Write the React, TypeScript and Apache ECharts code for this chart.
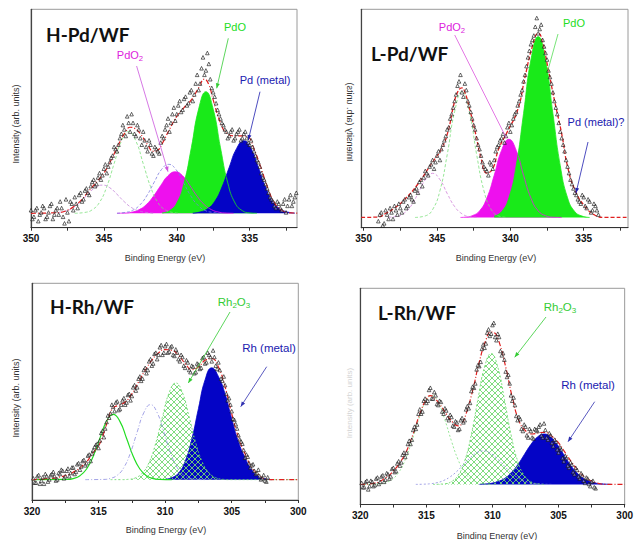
import React, { useEffect, useRef } from "react";
import * as echarts from "echarts";

// ---------- Panel 1: H-Pd/WF ----------
const p1DataStart = 350.0;
const p1DataStep = 0.2;
const p1DataY = [8,5,9,6,10,4,7,11,6,9, 12,5,13,3,11,14,9,16,13,18, 15,21,19,23,22,27,25,30,33,36,
  38,43,45,51,44,48,42,45,38,40, 35,38,33,36,34,42,45,50,48,55, 52,58,54,60,57,63,61,70,66,78,
  72,75,64,60,54,50,47,44,42,45, 41,44,40,43,41,38,37,33,30,25, 22,18,14,12,9,11,8,13,10,15, 12,16,14,11,15,13];
const p1Data2Start = 349.9;
const p1Data2Y = [4,8,3,7,9,5,10,4,8,6, 9,2,7,12,8,11,15,12,17,16, 19,22,20,25,24,29,28,32,37,35,
  41,47,42,48,52,43,47,41,44,37, 40,34,37,35,39,41,47,44,52,49, 56,53,59,56,62,58,66,63,73,70,
  80,68,62,57,52,48,45,41,44,40, 43,45,41,44,39,40,35,31,28,23, 20,16,13,10,12,9,11,7,13,10, 14,17,12,16,13];
const p1PdO = [[341.0,6.8],[340.5,7.8],[340.0,11.3],[339.5,20.5],[339.0,36.6],[338.5,54.3],[338.0,62.3],[337.5,54.3],[337.0,36.6],[336.5,20.5],[336.0,11.3],[335.5,7.8],[335.0,6.8],[334.5,6.6]];
const p1Metal = [[338.9,6.7],[338.4,7.2],[337.9,8.6],[337.4,12.0],[336.9,18.6],[336.4,27.7],[335.9,36.2],[335.4,39.8],[334.9,36.2],[334.4,27.7],[333.9,18.6],[333.4,12.0],[332.9,8.6],[332.4,7.2],[331.9,6.7]];
const p1PdO2 = [[344.1,6.6],[343.6,6.7],[343.1,7.1],[342.6,8.2],[342.1,10.5],[341.6,14.4],[341.1,19.3],[340.6,23.8],[340.1,25.6],[339.6,23.8],[339.1,19.3],[338.6,14.4],[338.1,10.5],[337.6,8.2],[337.1,7.1],[336.6,6.7],[336.1,6.6]];
const p1PdOSat = [[347.0,6.6],[346.3,7.0],[345.8,8.2],[345.3,11.6],[344.8,18.8],[344.3,29.3],[343.8,39.6],[343.3,44.0],[342.8,39.6],[342.3,29.3],[341.8,18.8],[341.3,11.6],[340.8,8.2],[340.3,7.0],[339.8,6.6]];
const p1MetalSat = [[344.1,6.6],[343.55,7.0],[343.05,7.9],[342.55,10.3],[342.05,14.7],[341.55,20.8],[341.05,26.6],[340.55,29.0],[340.05,26.6],[339.55,20.8],[339.05,14.7],[338.55,10.3],[338.05,7.9],[337.55,7.0],[337.0,6.6]];
const p1PdO2Sat = [[348.1,7.0],[347.6,7.7],[347.1,9.2],[346.6,11.9],[346.1,15.3],[345.6,18.3],[345.1,19.5],[344.6,18.3],[344.1,15.3],[343.6,11.9],[343.1,9.2],[342.6,7.7],[342.1,7.0],[341.5,6.6]];
const p1Env = [[350,6.6],[349,6.7],[348,7.0],[347.5,8.0],[347,10],[346.5,13],[346,17],[345.5,21],[345,25],[344.5,31],[344,38],[343.5,44],[343.2,46],[342.9,45.5],[342.5,43],[342,38],[341.6,35],[341.3,35.5],[341,38.5],[340.5,45],[340,51],[339.5,55],[339,58.5],[338.5,64],[338.1,68],[337.8,65.5],[337.5,58.5],[337,48],[336.6,43.5],[336,42],[335.5,42],[335.1,41.5],[334.7,36],[334.2,27],[333.8,19],[333.3,11.5],[332.8,8],[332.2,6.8],[331,6.6]];

// ---------- Panel 2: L-Pd/WF ----------
const p2DataStart = 349.0;
const p2DataStep = 0.2;
const p2DataY = [3,7,2,6,9,4,8,11,7,13, 10,15,12,18,21,19,26,24,29,27, 33,31,38,42,46,52,58,65,70,60,
  63,56,50,45,38,33,28,26,30,27, 35,38,41,39,46,44,50,53,58,63, 70,78,84,88,96,91,86,80,72,66,
  58,52,44,38,31,25,20,16,13,11, 14,9,12,8,10,6];
const p2Data2Start = 348.9;
const p2Data2Y = [6,1,8,4,7,10,6,9,12,9, 14,13,17,16,22,23,25,28,31,30, 35,36,40,45,50,55,61,67,62,66,
  58,53,47,41,36,30,27,24,29,31, 37,40,43,42,48,47,52,56,61,67, 74,81,86,92,89,93,83,77,69,62,
  55,48,41,35,28,22,18,15,12,15, 10,13,7,11,8];
const p2PdO = [[341.1,5.3],[340.6,7.3],[340.1,13.7],[339.6,28.5],[339.1,52.3],[338.6,76.8],[338.1,87.5],[337.6,76.8],[337.1,52.3],[336.6,28.5],[336.1,13.7],[335.6,7.3],[335.1,5.3],[334.6,4.7]];
const p2PdO2 = [[343.4,4.7],[343.1,4.8],[342.6,5.5],[342.1,7.7],[341.6,13.6],[341.1,24.0],[340.6,35.4],[340.1,40.5],[339.6,35.4],[339.1,24.0],[338.6,13.6],[338.1,7.7],[337.6,5.5],[337.1,4.8],[336.5,4.7]];
const p2PdOSat = [[346.5,4.7],[345.8,5.4],[345.3,8.3],[344.8,16.9],[344.3,33.6],[343.8,53.1],[343.3,62.3],[342.8,53.1],[342.3,33.6],[341.8,16.9],[341.3,8.3],[340.8,5.4],[340.2,4.7]];
const p2PdO2Sat = [[348.3,4.8],[347.8,5.1],[347.3,6.4],[346.8,9.7],[346.3,15.6],[345.8,22.0],[345.3,24.9],[344.8,22.0],[344.3,15.6],[343.8,9.7],[343.3,6.4],[342.8,5.1],[342.3,4.8]];
const p2Env = [[350.16,4.7],[349,4.9],[348.5,6.5],[347.9,9],[347.2,13],[346.3,20],[345.6,27],[345.3,30],[344.7,36],[344.25,44],[343.9,55],[343.6,62],[343.3,64],[343.1,62],[342.8,55],[342.4,44],[342.0,32],[341.6,25],[341.2,27],[340.8,36],[340.2,44],[339.5,54],[339.0,69],[338.5,83],[338.1,89],[337.9,87.5],[337.4,72],[337.0,58.5],[336.5,43],[336.1,28],[335.6,17.3],[334.9,9.6],[334.25,5.8],[333.6,4.7],[331.98,4.7]];

// ---------- Panel 3: H-Rh/WF ----------
const p3DataStart = 319.8;
const p3DataStep = 0.2;
const p3DataY = [8,11,7.5,10.5,12,8.5,11.5,13,9,12.5, 14,10,13.5,11,15,12,16.5,14,18,16, 20.5,18,23,25.5,24,31,29,36,38,44,
  41,45.5,42,46,44,48.5,46,52,50.5,56, 55,60,58.5,64,62,67.5,65,70.5,67,71, 68,70.5,67,69.5,65,67,62,64.5,60,62,
  58.5,63,60.5,65.5,63,68,66,69,62,63.5, 56,57,49,47,41,37,33,28,26,19.5, 20,15,16.5,12,14,9.5,11.5,8.5];
const p3Data2Start = 319.9;
const p3Data2Y = [10,8,11.5,9,7.5,11,9.5,12,11,9.5, 12,13.5,11,14.5,12.5,15,13,17,15.5,18.5, 17,21,21.5,24.5,26,27.5,32,33,39,40,
  43,45,41.5,44,47,45,49,48,53,52, 57,56,61,60,65,63,68,67,71.5,68, 72,68.5,71,66.5,68,64,66,61,63.5,59,
  61.5,59,62.5,61,66,63.5,67,64,66,60.5, 60,55,53,46,44,37.5,35,30,27,23, 21,17,16,13.5,12.5,11,10,9,10.5];
const p3Metal = [[310.0,9.6],[309.5,10.3],[309.0,12.4],[308.5,17.8],[308.0,28.0],[307.5,42.2],[307.0,55.5],[306.5,61.0],[306.0,57.0],[305.5,49.0],[305.0,37.5],[304.5,27.0],[304.0,19.5],[303.5,14.0],[303.0,11.0],[302.5,9.8],[302.0,9.4]];
const p3Rh2O3 = [[314.1,9.4],[313.2,9.4],[312.7,9.6],[312.2,10.3],[311.7,12.5],[311.2,17.4],[310.7,26.4],[310.2,38.4],[309.7,49.5],[309.2,54.0],[308.7,49.5],[308.2,38.4],[307.7,26.4],[307.2,17.4],[306.7,12.5],[306.2,10.3],[305.7,9.6],[305.2,9.4],[300,9.4]];
const p3Rh2O3Sat = [[320,9.4],[317.4,9.5],[316.9,9.9],[316.4,11.2],[315.9,14.3],[315.4,20.2],[314.9,28.5],[314.4,36.3],[313.9,39.5],[313.4,36.3],[312.9,28.5],[312.4,20.2],[311.9,14.3],[311.4,11.2],[310.9,9.9],[310.4,9.5],[309.5,9.4]];
const p3MetalSat = [[316.0,9.4],[314.6,9.5],[314.1,10.0],[313.6,11.4],[313.1,15.0],[312.6,21.9],[312.1,31.4],[311.6,40.3],[311.1,44.0],[310.6,40.3],[310.1,31.4],[309.6,21.9],[309.1,15.0],[308.6,11.4],[308.1,10.0],[307.6,9.5],[307.0,9.4]];
const p3Env = [[320,9.4],[319,9.8],[318,10.5],[317,12.5],[316,17],[315.4,22],[315,25],[314.6,31],[314.2,39],[313.9,42.5],[313.5,43.7],[313,45.2],[312.5,49],[312,54.5],[311.5,59.9],[311,64.5],[310.5,67.9],[310,69.4],[309.5,69.1],[309,66.8],[308.5,63],[308,60.2],[307.5,61.4],[307,64.5],[306.5,65.3],[306,61.4],[305.5,52.2],[305,39.8],[304.5,29],[304,21.3],[303.5,15.1],[303,11.7],[302.5,9.7],[302,9.4],[300,9.4]];

// ---------- Panel 4: L-Rh/WF ----------
const p4DataStart = 319.8;
const p4DataStep = 0.2;
const p4DataY = [8,10.5,7,11,8.5,12,9.5,13,10.5,14.5, 12,16.5,15,19,18,23,22,28,28,34.5, 35,42,42,48,47,53,49,52,46.5,48,
  43,44.5,40,41.5,36.5,38.5,34.5,39,38,44, 44.5,52.5,54,62.5,64,72,72.5,79.5,78,83, 77.5,79,71,70,61.5,60,50.5,49.5,41,40.5,
  35,37,32,35,31,35,34,37,31,34.5, 30,32,27,29,24,25.5,20,21.5,17,18.5, 14,16,12,13.5,10,12,8.5,11,7.5];
const p4Data2Start = 319.9;
const p4Data2Y = [10,8,11,8.5,10.5,9,12.5,10.5,13.5,11.5, 14,13,17,15.5,20,19.5,24,24,29.5,30, 36,37,44,43,49,48,54,49,50.5,46,
  47.5,42,43.5,39,40.5,36,38,35,40,39, 45.5,47,54.5,56,64.5,66,74,74.5,81,79, 84,76,77.5,69,67,59,56,48,46,39,
  39.5,34,36,31,34,30.5,34.5,36,32,37.5, 31,33,28.5,30,25.5,26.5,21.5,22.5,18,19.5, 15,17,13,14.5,11,12.5,9.5,10.5,8];
const p4Rh2O3 = [[314.5,9.3],[313.6,9.6],[313.1,10.6],[312.6,13.5],[312.1,20.2],[311.6,32.4],[311.1,48.7],[310.6,63.6],[310.1,69.8],[309.6,63.6],[309.1,48.7],[308.6,32.4],[308.1,20.2],[307.6,13.5],[307.1,10.6],[306.6,9.6],[306.0,9.3]];
const p4Metal = [[311,9.3],[310.6,9.5],[310.1,9.8],[309.6,10.6],[309.1,12.0],[308.6,14.6],[308.1,18.3],[307.6,23.0],[307.1,27.7],[306.6,31.2],[306.1,32.6],[305.6,31.2],[305.1,27.7],[304.6,23.0],[304.1,18.3],[303.6,14.6],[303.1,12.0],[302.6,10.6],[302.1,9.8],[301.6,9.5],[301,9.3]];
const p4Rh2O3Sat = [[320,9.3],[318.6,9.5],[318.1,10.1],[317.6,11.6],[317.1,14.8],[316.6,20.7],[316.1,29.3],[315.6,39.1],[315.1,47.2],[314.6,50.4],[314.1,47.2],[313.6,39.1],[313.1,29.3],[312.6,20.7],[312.1,14.8],[311.6,11.6],[311.1,10.1],[310.6,9.5],[310,9.3]];
const p4MetalSat = [[315.8,9.3],[315.2,9.4],[314.7,9.6],[314.2,10.1],[313.7,11.1],[313.2,12.8],[312.7,15.3],[312.2,18.4],[311.7,21.5],[311.2,23.9],[310.7,24.8],[310.2,23.9],[309.7,21.5],[309.2,18.4],[308.7,15.3],[308.2,12.8],[307.7,11.1],[307.2,10.1],[306.7,9.6],[306.2,9.4],[305.5,9.3]];
const p4Env = [[320,9.3],[319,9.8],[318,12.7],[317.5,15.5],[317,19.4],[316.5,24.8],[316,32.6],[315.5,41.9],[315,48.8],[314.7,50.4],[314.5,49.9],[314,46.5],[313.5,41.9],[313,38],[312.6,36.4],[312.3,37.5],[312,41.9],[311.5,52.7],[311,65.9],[310.5,76],[310.15,79.8],[309.85,79.4],[309.5,75.2],[309,63.6],[308.5,49.6],[308,38.8],[307.5,34.1],[307,32.6],[306.5,33.2],[306,33.4],[305.5,31.5],[305,28.5],[304.5,24],[304,19.5],[303.5,15.5],[303,12.6],[302.5,10.8],[302,9.8],[301.5,9.3],[300,9.3]];

// ---------- Axes ----------
const pdTicks = [332.5, 335, 337.5, 340, 342.5, 345, 347.5, 350];
const pdLabels = [335, 340, 345, 350];
const rhTicks = [300, 302.5, 305, 307.5, 310, 312.5, 315, 317.5, 320];
const rhLabels = [300, 305, 310, 315, 320];
const axisTitle = "Binding Energy (eV)";
const yTitle = "Intensity (arb. units)";

const GREEN = "#19ea19";
const MAGENTA = "#ee10ee";
const BLUE = "#0404c6";
const RED = "#e02020";

export default function App() {
  const ref = useRef<HTMLDivElement>(null);
  useEffect(() => {
    if (!ref.current) return;
    const chart = echarts.init(ref.current, undefined, { renderer: "svg" });

    const cv = document.createElement("canvas");
    cv.width = 6;
    cv.height = 6;
    const ctx = cv.getContext("2d")!;
    ctx.strokeStyle = "#72d872";
    ctx.lineWidth = 0.9;
    ctx.beginPath();
    ctx.moveTo(0, 0); ctx.lineTo(6, 6);
    ctx.moveTo(6, 0); ctx.lineTo(0, 6);
    ctx.stroke();
    const hatch: any = { image: cv, repeat: "repeat", imageWidth: 6, imageHeight: 6 };

    const grids = [
      { left: 31, top: 9.3, width: 266, height: 218.4 },
      { left: 361.3, top: 9.3, width: 266.7, height: 218.4 },
      { left: 32, top: 283.3, width: 266.3, height: 216.7 },
      { left: 360.3, top: 288.3, width: 267, height: 216.2 },
    ].map((g) => ({ ...g, show: true, borderColor: "#9a9a9a", borderWidth: 1 }));

    const ranges = [
      [331.75, 350.0],
      [331.98, 350.16],
      [300, 320],
      [300, 320],
    ];
    const xAxes = ranges.map((r, i) => ({
      gridIndex: i,
      type: "value",
      inverse: true,
      min: r[0],
      max: r[1],
      axisLine: { show: true, onZero: false, lineStyle: { color: "#333", width: 1.2 } },
      axisTick: { show: true, inside: false, length: 3, customValues: i < 2 ? pdTicks : rhTicks, lineStyle: { color: "#333", width: 1 } },
      axisLabel: {
        show: true,
        customValues: i < 2 ? pdLabels : rhLabels,
        margin: 6,
        fontSize: 10,
        fontWeight: "bold",
        color: "#111",
        fontFamily: "Liberation Sans",
      },
      splitLine: { show: false },
    }));
    const yAxes = [0, 1, 2, 3].map((i) => ({
      gridIndex: i,
      type: "value",
      min: 0,
      max: 100,
      axisLine: { show: true, onZero: false, lineStyle: { color: "#444", width: 1.2 } },
      axisTick: { show: false },
      axisLabel: { show: false },
      splitLine: { show: false },
    }));

    const line = (i: number, data: number[][], color: string, type: any, width: number, z: number, area?: any) => ({
      type: "line",
      xAxisIndex: i,
      yAxisIndex: i,
      data,
      smooth: 0.5,
      symbol: "none",
      silent: true,
      z,
      lineStyle: { color, width, type },
      areaStyle: area,
    });
    const scatter = (i: number, start: number, step: number, ys: number[]) => ({
      type: "scatter",
      xAxisIndex: i,
      yAxisIndex: i,
      data: ys.map((y, k) => [+(start - k * step).toFixed(2), y]),
      symbol: "triangle",
      symbolSize: 3.6,
      silent: true,
      z: 6,
      itemStyle: { color: "rgba(255,255,255,0.5)", borderColor: "#111", borderWidth: 0.8 },
    });
    const envStyle = [5, 2, 1, 2];

    const series: any[] = [
      // panel 1
      line(0, p1PdO2, MAGENTA, "solid", 0.8, 2, { color: MAGENTA, opacity: 1, origin: 6.6 }),
      line(0, p1PdO, GREEN, "solid", 0.8, 2, { color: GREEN, opacity: 1, origin: 6.6 }),
      line(0, p1Metal, BLUE, "solid", 0.8, 2, { color: BLUE, opacity: 1, origin: 6.6 }),
      line(0, p1PdOSat, "#7ce07c", [3, 2], 0.8, 3),
      line(0, p1MetalSat, "#7a7ae0", [3, 2], 0.8, 3),
      line(0, p1PdO2Sat, "#c080d8", [3, 2], 0.8, 3),
      line(0, p1Env, RED, envStyle, 1.2, 4),
      scatter(0, p1DataStart, p1DataStep, p1DataY),
      scatter(0, p1Data2Start, p1DataStep, p1Data2Y),
      // panel 2
      line(1, p2PdO2, MAGENTA, "solid", 0.8, 2, { color: MAGENTA, opacity: 1, origin: 4.7 }),
      line(1, p2PdO, GREEN, "solid", 0.8, 2, { color: GREEN, opacity: 1, origin: 4.7 }),
      line(1, p2PdOSat, "#7ce07c", [3, 2], 0.8, 3),
      line(1, p2PdO2Sat, "#d080d8", [3, 2], 0.8, 3),
      line(1, p2Env, RED, [4, 2], 1.3, 4),
      scatter(1, p2DataStart, p2DataStep, p2DataY),
      scatter(1, p2Data2Start, p2DataStep, p2Data2Y),
      // panel 3
      line(2, p3Metal, BLUE, "solid", 0.8, 2, { color: BLUE, opacity: 1, origin: 9.4 }),
      line(2, p3Rh2O3, "#62d862", [2, 2], 0.8, 2, { color: hatch, opacity: 1, origin: 9.4 }),
      line(2, p3Rh2O3Sat, "#22dd22", "solid", 1.2, 3),
      line(2, p3MetalSat, "#8c8ce0", [4, 2, 1, 2], 0.8, 3),
      line(2, p3Env, RED, envStyle, 1.2, 4),
      scatter(2, p3DataStart, p3DataStep, p3DataY),
      scatter(2, p3Data2Start, p3DataStep, p3Data2Y),
      // panel 4
      line(3, p4Metal, BLUE, "solid", 0.8, 2, { color: BLUE, opacity: 1, origin: 9.3 }),
      line(3, p4Rh2O3, "#62d862", [2, 2], 0.8, 2, { color: hatch, opacity: 1, origin: 9.3 }),
      line(3, p4Rh2O3Sat, "#7ce07c", [2, 2], 0.8, 3),
      line(3, p4MetalSat, "#8c8ce0", [2, 2], 0.8, 3),
      line(3, p4Env, RED, envStyle, 1.2, 4),
      scatter(3, p4DataStart, p4DataStep, p4DataY),
      scatter(3, p4Data2Start, p4DataStep, p4Data2Y),
    ];

    const arrow = (x1: number, y1: number, x2: number, y2: number, color: string, head = true) => {
      const els: any[] = [
        { type: "line", silent: true, z: 20, shape: { x1, y1, x2, y2 }, style: { stroke: color, lineWidth: 0.8 } },
      ];
      if (head) {
        const a = Math.atan2(y2 - y1, x2 - x1);
        const L = 5, W = 2;
        const bx = x2 - L * Math.cos(a), by = y2 - L * Math.sin(a);
        els.push({
          type: "polygon",
          silent: true,
          z: 20,
          shape: { points: [[x2, y2], [bx + W * Math.sin(a), by - W * Math.cos(a)], [bx - W * Math.sin(a), by + W * Math.cos(a)]] },
          style: { fill: color },
        });
      }
      return els;
    };
    const rich = (color: string, size: number) => ({
      a: { fontSize: size, fontFamily: "Liberation Sans", fill: color, lineHeight: size + 3 },
      s: { fontSize: size * 0.7, fontFamily: "Liberation Sans", fill: color, lineHeight: size * 0.7, verticalAlign: "bottom" },
    });
    const label = (x: number, y: number, text: string, color: string, size = 11) => ({
      type: "text",
      x,
      y,
      z: 21,
      silent: true,
      style: { text, rich: rich(color, size), fill: color, fontSize: size, fontFamily: "Liberation Sans", align: "center", verticalAlign: "middle" },
    });
    const title = (x: number, y: number, text: string) => ({
      type: "text",
      x,
      y,
      z: 21,
      silent: true,
      style: { text, fill: "#111", fontSize: 19, fontWeight: "bold", fontFamily: "Lato", align: "left", verticalAlign: "middle" },
    });
    const xName = (x: number, y: number) => ({
      type: "text",
      x,
      y,
      silent: true,
      style: { text: axisTitle, fill: "#333", fontSize: 9, fontFamily: "Liberation Sans", align: "center", verticalAlign: "middle" },
    });
    const yName = (x: number, y: number, mirrored = false, faint = false) => ({
      type: "text",
      x,
      y,
      rotation: Math.PI / 2,
      scaleY: mirrored ? -1 : 1,
      silent: true,
      style: {
        text: yTitle,
        fill: faint ? "#d4d4d4" : "#333",
        fontSize: faint ? 8 : 9,
        fontFamily: "Liberation Sans",
        align: "center",
        verticalAlign: "middle",
      },
    });

    const graphic: any[] = [
      title(46, 34, "H-Pd/WF"),
      title(371, 53, "L-Pd/WF"),
      title(50, 306, "H-Rh/WF"),
      title(378, 312, "L-Rh/WF"),
      xName(165, 257.5),
      xName(496, 257.5),
      xName(166, 529.5),
      xName(497, 535.5),
      yName(16, 124),
      yName(350, 122, true),
      yName(16, 398),
      yName(349, 403, false, true),
      // panel 1 annotations
      label(130, 55, "{a|PdO}{s|2}", "#dd22dd"),
      ...arrow(136.6, 66, 168, 171.7, "#cc55dd"),
      label(235, 27, "{a|PdO}", "#22dd22"),
      ...arrow(228.3, 38.3, 216.7, 88.3, "#33cc33"),
      label(265, 80, "{a|Pd (metal)}", "#2020b0"),
      ...arrow(260, 91.7, 248.3, 140, "#2020b0"),
      // panel 2 annotations
      label(452, 27, "{a|PdO}{s|2}", "#dd22dd"),
      ...arrow(454.7, 35, 506.3, 138, "#dd55dd", false),
      label(574, 23, "{a|PdO}", "#22dd22"),
      ...arrow(558, 34, 548, 70, "#55dd55", false),
      label(596, 122, "{a|Pd (metal)?}", "#2020b0"),
      ...arrow(588, 142, 576, 193, "#2020b0"),
      // panel 3 annotations
      label(234, 302, "{a|Rh}{s|2}{a|O}{s|3}", "#33cc33", 11.5),
      ...arrow(230, 312, 188.3, 383, "#33cc33"),
      label(269, 348, "{a|Rh (metal)}", "#2020b0", 11.5),
      ...arrow(266.7, 366.7, 240.7, 406.7, "#3030b0"),
      // panel 4 annotations
      label(560, 307, "{a|Rh}{s|2}{a|O}{s|3}", "#33cc33", 11.5),
      ...arrow(546, 317, 514.7, 357.3, "#33cc33"),
      label(588, 385, "{a|Rh (metal)}", "#2020b0", 11.5),
      ...arrow(594.7, 401.7, 568, 441.7, "#3030b0"),
    ];

    chart.setOption({
      animation: false,
      backgroundColor: "#ffffff",
      grid: grids,
      xAxis: xAxes,
      yAxis: yAxes,
      series,
      graphic,
    });
    return () => chart.dispose();
  }, []);
  return <div ref={ref} style={{ position: "absolute", left: 0, top: 0, width: 636, height: 540 }} />;
}
